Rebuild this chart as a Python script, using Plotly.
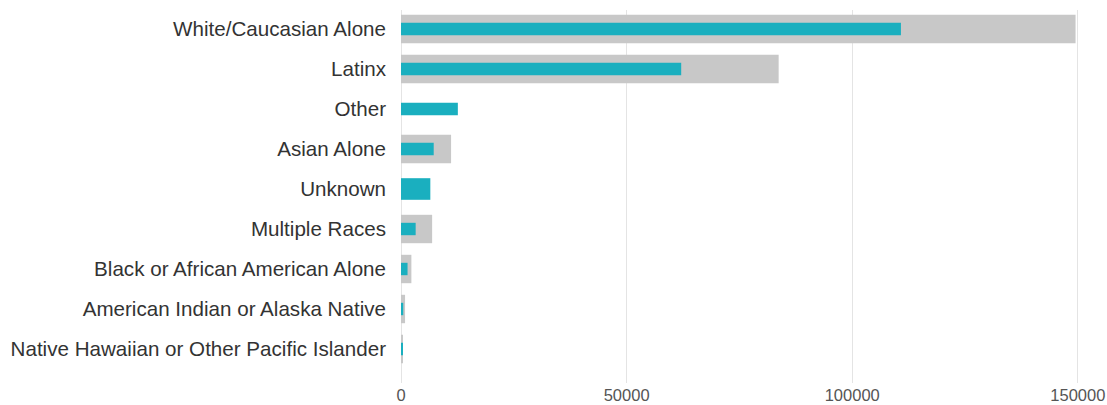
import plotly.graph_objects as go

categories = [
    "White/Caucasian Alone",
    "Latinx",
    "Other",
    "Asian Alone",
    "Unknown",
    "Multiple Races",
    "Black or African American Alone",
    "American Indian or Alaska Native",
    "Native Hawaiian or Other Pacific Islander",
]
gray_values = [149500, 83700, 0, 11100, 0, 6900, 2300, 900, 300]
teal_values = [110800, 62100, 12600, 7250, 6500, 3250, 1450, 500, 350]
x_ticks = [0, 50000, 100000, 150000]

teal_widths = [0.54 if c == "Unknown" else 0.31 for c in categories]

fig = go.Figure()
fig.add_trace(go.Bar(
    y=categories, x=gray_values, orientation="h",
    marker=dict(color="#C8C8C8", line=dict(width=0)),
    width=0.71, showlegend=False, hoverinfo="x+y",
))
fig.add_trace(go.Bar(
    y=categories, x=teal_values, orientation="h",
    marker=dict(color="#1AAFBF", line=dict(width=0)),
    width=teal_widths, showlegend=False, hoverinfo="x+y",
))

fig.update_layout(
    barmode="overlay",
    width=1107, height=405,
    margin=dict(l=401, r=17, t=10, b=22, pad=0),
    plot_bgcolor="white", paper_bgcolor="white",
    font=dict(family="Liberation Sans, Arial, sans-serif"),
    xaxis=dict(
        range=[0, 152700], tickvals=x_ticks,
        ticktext=[str(v) for v in x_ticks],
        showgrid=True, gridcolor="#E4E4E4", gridwidth=1,
        zeroline=True, zerolinecolor="#E4E4E4", zerolinewidth=1,
        showline=False, ticks="", automargin=False,
        tickfont=dict(size=16.5, color="#555555"),
        fixedrange=True,
    ),
    yaxis=dict(
        categoryorder="array", categoryarray=categories,
        range=[8.85, -0.475], autorange=False,
        showgrid=False, zeroline=False, showline=False, ticks="",
        ticklabelstandoff=14, automargin=False,
        tickfont=dict(size=20.6, color="#333333"),
        fixedrange=True,
    ),
)

fig.write_html("out.html")
